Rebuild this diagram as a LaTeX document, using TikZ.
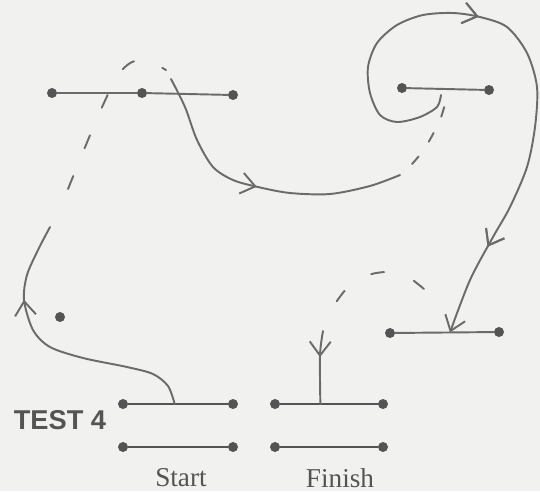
\documentclass[tikz,border=0pt]{standalone}
\usepackage{fontspec}
\setmainfont{Liberation Serif}
\setsansfont{Liberation Sans}
\usetikzlibrary{arrows.meta,calc,decorations.markings}
\definecolor{paper}{rgb}{0.945,0.945,0.94}
\definecolor{pencil}{rgb}{0.42,0.42,0.42}
\definecolor{lead}{rgb}{0.33,0.33,0.33}
\tikzset{
    dot/.style={circle,fill=lead,inner sep=0pt,minimum size=0.2cm},
    bar/.style={draw=lead,line width=1.4pt},
    trace/.style={draw=pencil,line width=1.1pt,line cap=round},
    jump/.style={trace,dash pattern=on 0.28cm off 0.6cm},
    barb/.tip={Straight Barb[length=2.8mm,width=4.2mm]},
    arrowat/.style={postaction={decorate},decoration={markings,
        mark=at position #1 with {\arrow{barb}}}},
}

\begin{document}
\begin{tikzpicture}[x=0.02cm,y=-0.02cm]
		\useasboundingbox (0,0) rectangle (540,491);
		\fill[paper] (0,0) rectangle (540,491);
		% start / finish pads
		\foreach \y/\r in {404/a,447/b}{
			\node[dot] (s\r1) at (123,\y) {};
			\node[dot] (s\r2) at (233,\y) {};
			\node[dot] (f\r1) at (275,\y) {};
			\node[dot] (f\r2) at (383,\y) {};
			\draw[bar] (s\r1) -- (s\r2);
			\draw[bar] (f\r1) -- (f\r2);
		}
		\node[text=lead,font=\sffamily\bfseries\fontsize{15.5}{18}\selectfont] (test) at (60,420) {TEST 4};
		\node[text=lead,font=\fontsize{15.5}{18}\selectfont] (start) at (181,478) {Start};
		\node[text=lead,font=\fontsize{15.5}{18}\selectfont] (finish) at (340,478) {Finish};
		% bars in the field
		\node[dot] (ta1) at (52,93) {};
		\node[dot] (ta2) at (142,93) {};
		\node[dot] (ta3) at (233,95) {};
		\node[dot] (tr1) at (402,88) {};
		\node[dot] (tr2) at (489,90) {};
		\node[dot] (mr1) at (390,333) {};
		\node[dot] (mr2) at (499,332) {};
		\node[dot] (lone) at (60,317) {};
		\draw[trace] (ta1) -- (ta2) -- (ta3);
		\draw[trace] (tr1) -- (tr2);
		\draw[trace] (mr1) -- (mr2);
		\coordinate (s0) at ($(sa1)!0.47!(sa2)$);
		\coordinate (f0) at ($(fa1)!0.42!(fa2)$);
		\coordinate (m0) at ($(mr1)!0.55!(mr2)$);
		% the route
		\draw[trace,arrowat=0.72] plot[smooth] coordinates {(s0) (168,386) (153,374) (127,367) (83,358) (50,347) (33,330) (24,300) (27,275) (38,250) (50,227)};
		\draw[jump] plot[smooth] coordinates {(68,189) (88,140) (103,105) (118,75) (132,62) (148,61) (166,70)};
		\draw[trace,arrowat=0.5] plot[smooth] coordinates {(171,79) (185,107) (197,140) (213,167) (233,180) (258,187) (290,193) (330,194) (370,186) (400,175)};
		\draw[trace,dash pattern=on 0.2cm off 0.36cm] plot[smooth] coordinates {(412,164) (425,148) (440,120) (447,96)};
		\draw[trace,arrowat=0.42,arrowat=0.85,-barb] plot[smooth] coordinates {(441,95) (437,107) (420,117) (397,122) (380,115) (370,93) (368,67) (377,43) (397,25) (423,15) (453,13) (480,17) (507,27) (527,53) (537,87) (535,127) (527,167) (510,207) (493,237) (470,280) (m0)};
		\draw[trace,dash pattern=on 0.26cm off 0.64cm] plot[smooth] coordinates {(424,289) (405,275) (385,272) (365,276) (348,287) (334,305)};
		\draw[trace,arrowat=0.36] plot[smooth] coordinates {(323,331) (320,355) (f0)};
	\end{tikzpicture}
\end{document}
